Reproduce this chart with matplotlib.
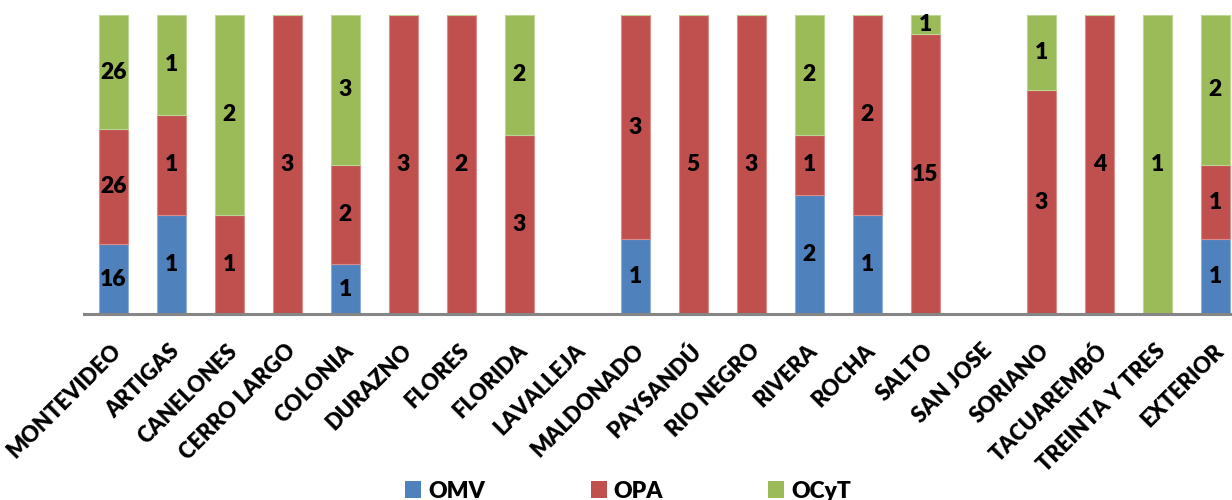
import numpy as np
import matplotlib
matplotlib.use("Agg")
import matplotlib.pyplot as plt
import matplotlib.transforms as mtransforms
from matplotlib.patches import Rectangle

categories = ["MONTEVIDEO", "ARTIGAS", "CANELONES", "CERRO LARGO", "COLONIA",
              "DURAZNO", "FLORES", "FLORIDA", "LAVALLEJA", "MALDONADO",
              "PAYSANDÚ", "RIO NEGRO", "RIVERA", "ROCHA", "SALTO", "SAN JOSE",
              "SORIANO", "TACUAREMBÓ", "TREINTA Y TRES", "EXTERIOR"]
omv = [16, 1, 0, 0, 1, 0, 0, 0, 0, 1, 0, 0, 2, 1, 0, 0, 0, 0, 0, 1]
opa = [26, 1, 1, 3, 2, 3, 2, 3, 0, 3, 5, 3, 1, 2, 15, 0, 3, 4, 0, 1]
ocyt = [26, 1, 2, 0, 3, 0, 0, 2, 0, 0, 0, 0, 2, 0, 1, 0, 1, 0, 1, 2]
series_names = ["OMV", "OPA", "OCyT"]
colors = ["#4F81BD", "#C0504D", "#9BBB59"]
edge_colors = ["#8FAEDB", "#D98C8A", "#BDD495"]

plt.rcParams['font.family'] = ['Lato', 'DejaVu Sans']
FS = 16.5
W = 'heavy'

fig = plt.figure(figsize=(12.32, 5.0), dpi=100)
ax = fig.add_axes([84.3 / 1232, 1 - 314.3 / 500, 20 * 58 / 1232, (314.3 - 15) / 500])

data = np.array([omv, opa, ocyt], dtype=float)
totals = data.sum(axis=0)
frac = np.divide(data, totals, out=np.zeros_like(data), where=totals > 0)

x = np.arange(len(categories))
bottom = np.zeros(len(categories))
for i, name in enumerate(series_names):
    ax.bar(x, frac[i], 0.51, bottom=bottom, color=colors[i],
           edgecolor=edge_colors[i], linewidth=0.8, label=name, zorder=2)
    for j in range(len(categories)):
        if data[i, j] > 0:
            ax.text(x[j], bottom[j] + frac[i, j] / 2, f"{int(data[i, j])}",
                    ha='center', va='center', fontsize=FS, fontweight=W,
                    color='black', zorder=3)
    bottom += frac[i]

ax.set_xlim(-0.5, len(categories) - 0.5)
ax.set_ylim(0, 1)
for s in ['top', 'right', 'left']:
    ax.spines[s].set_visible(False)
ax.spines['bottom'].set_color('#868686')
ax.spines['bottom'].set_linewidth(2.2)
ax.spines['bottom'].set_zorder(4)
ax.set_yticks([])
ax.set_xticks(x)
ax.set_xticklabels(categories, rotation=45, ha='right', va='center',
                   rotation_mode='anchor', fontsize=15.8, fontweight=W)
ax.tick_params(axis='x', length=0, pad=24)
offset = mtransforms.ScaledTranslation(5 / 100, 0, fig.dpi_scale_trans)
for lbl in ax.get_xticklabels():
    lbl.set_transform(lbl.get_transform() + offset)

handles = [Rectangle((0, 0), 1, 1, facecolor=c, edgecolor='none') for c in colors]
fig.legend(handles, series_names, loc='center', bbox_to_anchor=(0.51, 0.018),
           ncol=3, frameon=False, prop={'size': FS, 'weight': W},
           handlelength=0.7, handleheight=0.7, handletextpad=0.3,
           columnspacing=4.6)

fig.savefig("out.png", dpi=100)
